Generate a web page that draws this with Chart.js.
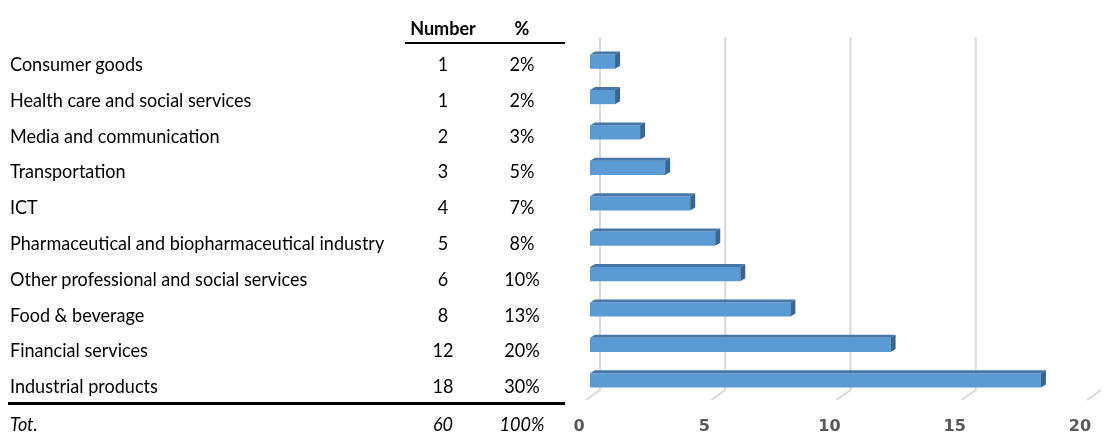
<!DOCTYPE html>
<html>
<head>
<meta charset="utf-8">
<script src="https://cdn.jsdelivr.net/npm/chart.js@4/dist/chart.umd.min.js"></script>
<style>
	html, body { margin: 0; padding: 0; background: #ffffff; }
	#wrap { position: relative; width: 1110px; height: 435px; overflow: hidden; }
	#chart { position: absolute; left: 0; top: 0; }
	.cell {
		position: absolute;
		font-family: Lato, "Liberation Sans", sans-serif;
		font-size: 19px;
		line-height: 22px;
		height: 22px;
		color: #000000;
		white-space: nowrap;
		transform: scaleX(0.95);
		transform-origin: left center;
	}
	.num { width: 80px; text-align: center; transform-origin: center center; }
	.head { font-weight: bold; }
	.tot { font-style: italic; }
	.rule { position: absolute; background: #000000; }
</style>
</head>
<body>
<div id="wrap">
	<canvas id="chart" width="1110" height="435"></canvas>
	<div id="table"></div>
</div>
<script>
// sectors, top to bottom
const sectors = [
	'Consumer goods',
	'Health care and social services',
	'Media and communication',
	'Transportation',
	'ICT',
	'Pharmaceutical and biopharmaceutical industry',
	'Other professional and social services',
	'Food & beverage',
	'Financial services',
	'Industrial products'
];
const counts = [1, 1, 2, 3, 4, 5, 6, 8, 12, 18];
const shares = [2, 2, 3, 5, 7, 8, 10, 13, 20, 30];
const totalCount = 60;
const totalShare = 100;
const axisTicks = [0, 5, 10, 15, 20];

// table geometry
const rowTop = 64;
const rowStep = 35.8;
const numCenter = 443;
const pctCenter = 522;

function addCell(text, x, y, cls) {
	const el = document.createElement('div');
	el.className = 'cell ' + (cls || '');
	el.textContent = text;
	el.style.left = x + 'px';
	el.style.top = (y - 11) + 'px';
	document.getElementById('table').appendChild(el);
	return el;
}

function addRule(x, y, w, h) {
	const el = document.createElement('div');
	el.className = 'rule';
	el.style.left = x + 'px';
	el.style.top = y + 'px';
	el.style.width = w + 'px';
	el.style.height = h + 'px';
	document.getElementById('table').appendChild(el);
}

// header
addCell('Number', numCenter - 40, 28, 'num head');
addCell('%', pctCenter - 40, 28, 'num head');
addRule(405, 42, 160, 2);

sectors.forEach((name, i) => {
	const y = rowTop + i * rowStep;
	addCell(name, 10, y);
	addCell(String(counts[i]), numCenter - 40, y, 'num');
	addCell(shares[i] + '%', pctCenter - 40, y, 'num');
});

// totals
addRule(8, 402, 557, 3);
addCell('Tot.', 10, 424, 'tot');
addCell(String(totalCount), numCenter - 40, 424, 'num tot');
addCell(totalShare + '%', pctCenter - 40, 424, 'num tot');

// back wall grid with floor ticks, drawn offset from the bar plane
const wallGrid = {
	id: 'wallGrid',
	beforeDatasetsDraw(chart) {
		const ctx = chart.ctx;
		const xs = chart.scales.x;
		const depthX = 10;
		ctx.save();
		ctx.strokeStyle = '#d9d9d9';
		ctx.lineWidth = 2;
		axisTicks.forEach((v) => {
			const gx = xs.getPixelForValue(v) + depthX;
			ctx.beginPath();
			if (v < axisTicks[axisTicks.length - 1]) {
				ctx.moveTo(gx, 37);
				ctx.lineTo(gx, 390);
			} else {
				ctx.moveTo(gx, 390);
			}
			ctx.lineTo(gx - 14, 400);
			ctx.stroke();
		});
		ctx.restore();
	}
};

// top and side faces so the bars look extruded
const barFaces = {
	id: 'barFaces',
	afterDatasetsDraw(chart) {
		const ctx = chart.ctx;
		const dx = 5, dy = 3;
		ctx.save();
		chart.getDatasetMeta(0).data.forEach((bar) => {
			const p = bar.getProps(['x', 'y', 'base', 'height'], true);
			const top = p.y - p.height / 2;
			const bottom = p.y + p.height / 2;
			// top face
			ctx.fillStyle = '#4677a8';
			ctx.beginPath();
			ctx.moveTo(p.base, top);
			ctx.lineTo(p.base + dx, top - dy);
			ctx.lineTo(p.x + dx, top - dy);
			ctx.lineTo(p.x, top);
			ctx.closePath();
			ctx.fill();
			// right face
			ctx.fillStyle = '#3a6590';
			ctx.beginPath();
			ctx.moveTo(p.x, top);
			ctx.lineTo(p.x + dx, top - dy);
			ctx.lineTo(p.x + dx, bottom - dy);
			ctx.lineTo(p.x, bottom);
			ctx.closePath();
			ctx.fill();
		});
		ctx.restore();
	}
};

new Chart(document.getElementById('chart'), {
	type: 'bar',
	data: {
		labels: sectors,
		datasets: [{
			data: counts,
			backgroundColor: '#5b9bd5',
			borderWidth: 0,
			barPercentage: 0.4,
			categoryPercentage: 1
		}]
	},
	options: {
		indexAxis: 'y',
		responsive: false,
		animation: false,
		layout: {
			padding: { left: 590, right: 19, top: 44, bottom: 2 }
		},
		scales: {
			x: {
				min: 0,
				max: 20,
				afterBuildTicks: (scale) => {
					scale.ticks = axisTicks.map((v) => ({ value: v }));
				},
				afterFit: (scale) => {
					// labels are shifted left, so no extra side room is needed
					scale.height = 35;
					scale.paddingLeft = 0;
					scale.paddingRight = 0;
				},
				ticks: {
					labelOffset: -11,
					padding: 19,
					color: '#595959',
					font: { family: 'DejaVu Sans', size: 16, weight: 'bold' }
				},
				grid: { display: false, drawTicks: false },
				border: { display: false }
			},
			y: {
				display: false
			}
		},
		plugins: {
			legend: { display: false },
			tooltip: { enabled: false },
			title: { display: false }
		}
	},
	plugins: [wallGrid, barFaces]
});
</script>
</body>
</html>
